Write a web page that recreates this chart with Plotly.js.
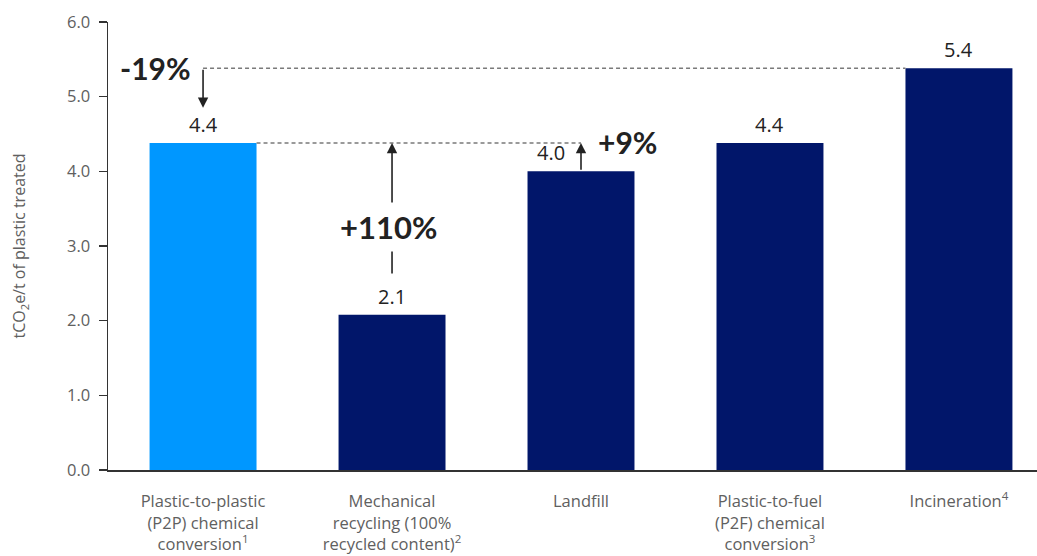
<!DOCTYPE html>
<html>
<head>
<meta charset="utf-8">
<script src="https://cdn.plot.ly/plotly-3.0.1.min.js"></script>
<style>html,body{margin:0;padding:0;background:#fff}#chart{width:1037px;height:556px}</style>
</head>
<body>
<div id="chart"></div>
<script>
const categories = [
  "Plastic-to-plastic<br>(P2P) chemical<br>conversion<sup>1</sup>",
  "Mechanical<br>recycling (100%<br>recycled content)<sup>2</sup>",
  "Landfill",
  "Plastic-to-fuel<br>(P2F) chemical<br>conversion<sup>3</sup>",
  "Incineration<sup>4</sup>"
];
const values = [4.38, 2.08, 4.0, 4.38, 5.38];
const valueLabels = ["4.4", "2.1", "4.0", "4.4", "5.4"];
const barColors = ["#0097FF", "#01166A", "#01166A", "#01166A", "#01166A"];
const changeLabels = ["-19%", "+110%", "+9%"];
const yTicks = [0, 1, 2, 3, 4, 5, 6];
const yTickText = ["0.0", "1.0", "2.0", "3.0", "4.0", "5.0", "6.0"];

const barWidth = 0.566;
const xs = categories.map((_, i) => i);
const FONT = "'Open Sans', Lato, sans-serif";
const BOLD = "Lato, 'Open Sans', sans-serif";
const dark = "#222222";
const grey = "#606060";
const dashColor = "#7a7a7a";

const trace = {
  type: "bar",
  x: xs,
  y: values,
  width: barWidth,
  marker: { color: barColors, line: { width: 0 } },
  hoverinfo: "skip"
};

const annotations = [];
// value labels
const labelOffsets = [0, 0, -0.16, 0, 0];
values.forEach((v, i) => {
  annotations.push({
    x: i + labelOffsets[i], y: v, xref: "x", yref: "y",
    text: valueLabels[i], showarrow: false,
    yanchor: "bottom", yshift: 3,
    font: { family: FONT, size: 20, color: dark }
  });
});

// -19% arrow: from incineration level down toward P2P
annotations.push({
  x: 0, y: values[0] + 0.47, xref: "x", yref: "y",
  ax: 0, ay: values[4], axref: "x", ayref: "y",
  showarrow: true, arrowhead: 2, arrowsize: 1.3, arrowwidth: 1.6,
  arrowcolor: dark, standoff: 0, startstandoff: 0, text: ""
});
annotations.push({
  x: 0, y: values[4], xref: "x", yref: "y",
  text: "<b>" + changeLabels[0] + "</b>", showarrow: false,
  xanchor: "right", xshift: -10, yshift: 0,
  font: { family: BOLD, size: 30, color: dark }
});

// +110% arrow: from mechanical label up to P2P level
annotations.push({
  x: 1, y: values[0], xref: "x", yref: "y",
  ax: 1, ay: values[1] + 0.53, axref: "x", ayref: "y",
  showarrow: true, arrowhead: 2, arrowsize: 1.3, arrowwidth: 1.6,
  arrowcolor: dark, standoff: 0, startstandoff: 0, text: ""
});
annotations.push({
  x: 1, y: (values[0] + values[1] + 0.53) / 2 - 0.24, xref: "x", yref: "y",
  text: "<b>" + changeLabels[1] + "</b>", showarrow: false,
  bgcolor: "#ffffff", borderpad: 5, xshift: -4,
  font: { family: BOLD, size: 31, color: dark }
});

// +9% arrow: landfill up to P2P level
annotations.push({
  x: 2, y: values[0], xref: "x", yref: "y",
  ax: 2, ay: values[2], axref: "x", ayref: "y",
  showarrow: true, arrowhead: 2, arrowsize: 1.3, arrowwidth: 1.6,
  arrowcolor: dark, standoff: 0, startstandoff: 0, text: ""
});
annotations.push({
  x: 2, y: values[0], xref: "x", yref: "y",
  text: "<b>" + changeLabels[2] + "</b>", showarrow: false,
  xanchor: "left", xshift: 15, yshift: 1,
  font: { family: BOLD, size: 30, color: dark }
});

const shapes = [
  { type: "line", xref: "x", yref: "y", x0: 0, x1: 4 - barWidth / 2, y0: values[4], y1: values[4],
    line: { color: dashColor, width: 1.5, dash: "4px,3px" } },
  { type: "line", xref: "x", yref: "y", x0: barWidth / 2, x1: 2, y0: values[0], y1: values[0],
    line: { color: dashColor, width: 1.5, dash: "4px,3px" } }
];

const layout = {
  width: 1037, height: 556,
  margin: { l: 108, r: 0, t: 22, b: 86, pad: 0 },
  paper_bgcolor: "#ffffff", plot_bgcolor: "#ffffff",
  showlegend: false,
  font: { family: FONT, color: grey },
  xaxis: {
    range: [-0.503, 4.413],
    tickvals: xs, ticktext: categories,
    showline: true, linecolor: "#333333", linewidth: 1.5,
    showgrid: false, zeroline: false, ticks: "",
    ticklabelstandoff: 16,
    tickfont: { family: FONT, size: 16.5, color: grey },
    fixedrange: true
  },
  yaxis: {
    range: [0, 6],
    tickvals: yTicks, ticktext: yTickText,
    showline: true, linecolor: "#333333", linewidth: 1.5,
    ticks: "outside", ticklen: 8, tickcolor: "#333333", tickwidth: 1.5,
    ticklabelstandoff: 5,
    showgrid: false, zeroline: false,
    tickfont: { family: FONT, size: 16.5, color: grey },
    title: { text: "tCO<sub>2</sub>e/t of plastic treated", standoff: 37,
             font: { family: FONT, size: 16, color: grey } },
    fixedrange: true
  },
  annotations: annotations,
  shapes: shapes
};

Plotly.newPlot("chart", [trace], layout, { displayModeBar: false, staticPlot: true });
</script>
</body>
</html>
